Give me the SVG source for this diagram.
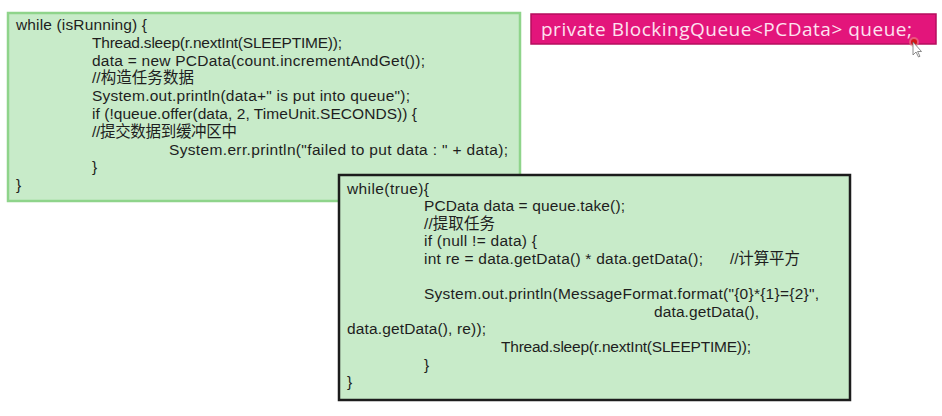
<svg xmlns="http://www.w3.org/2000/svg" width="942" height="416" viewBox="0 0 942 416">
<style>
.code{font-family:"Liberation Sans","Noto Sans CJK SC",sans-serif;font-size:15.5px;fill:#1e1e1e}
.pink{font-family:"Open Sans","Noto Sans CJK SC",sans-serif;font-size:19px;fill:#fde2f0}
</style>
<rect x="0" y="0" width="942" height="416" fill="#ffffff"/>
<g id="producer">
<rect x="8" y="13" width="512" height="188" fill="#c8ebc9" stroke="#8fd48b" stroke-width="2.5"/>
<text class="code" x="16" y="30" textLength="131">while (isRunning) {</text>
<text class="code" x="92" y="47.8" textLength="250">Thread.sleep(r.nextInt(SLEEPTIME));</text>
<text class="code" x="92" y="65.6" textLength="333">data = new PCData(count.incrementAndGet());</text>
<text class="code" x="92" y="83.4" textLength="102">//构造任务数据</text>
<text class="code" x="92" y="101.2" textLength="318">System.out.println(data+" is put into queue");</text>
<text class="code" x="92" y="119" textLength="325">if (!queue.offer(data, 2, TimeUnit.SECONDS)) {</text>
<text class="code" x="92" y="136.8" textLength="145">//提交数据到缓冲区中</text>
<text class="code" x="169" y="154.6" textLength="339">System.err.println("failed to put data : " + data);</text>
<text class="code" x="92" y="172.4">}</text>
<text class="code" x="16" y="190.2">}</text>
</g>
<g id="queue-decl">
<rect x="531" y="14" width="405" height="30" fill="#e3157b" stroke="#b50e5e" stroke-width="1.5"/>
<text class="pink" x="541" y="36" textLength="371">private BlockingQueue&lt;PCData&gt; queue;</text>
</g>
<g id="consumer">
<rect x="339" y="175" width="511" height="225" fill="#c8ebc9" stroke="#1c1c1c" stroke-width="2.5"/>
<text class="code" x="347" y="193.5" textLength="82">while(true){</text>
<text class="code" x="424" y="211.1" textLength="201">PCData data = queue.take();</text>
<text class="code" x="424" y="228.7" textLength="71">//提取任务</text>
<text class="code" x="424" y="246.3" textLength="113">if (null != data) {</text>
<text class="code" x="424" y="263.9" textLength="279">int re = data.getData() * data.getData();</text>
<text class="code" x="730" y="263.9" textLength="70">//计算平方</text>
<text class="code" x="424" y="299.1" textLength="395">System.out.println(MessageFormat.format("{0}*{1}={2}",</text>
<text class="code" x="654" y="316.7" textLength="105">data.getData(),</text>
<text class="code" x="347" y="334.3" textLength="139">data.getData(), re));</text>
<text class="code" x="501" y="351.9" textLength="250">Thread.sleep(r.nextInt(SLEEPTIME));</text>
<text class="code" x="424" y="369.5">}</text>
<text class="code" x="347" y="387.1">}</text>
</g>
<g id="cursor">
<circle cx="914" cy="42" r="5" fill="#f08080" opacity="0.6"/>
<circle cx="914" cy="42" r="3" fill="#d01818"/>
<path d="M913,42 L913,55 L916,52 L918.5,57 L920,56.3 L917.6,51.5 L921.5,51.5 Z" fill="#ffffff" stroke="#707070" stroke-width="0.8"/>
</g>
<g id="connectors"></g>
</svg>
